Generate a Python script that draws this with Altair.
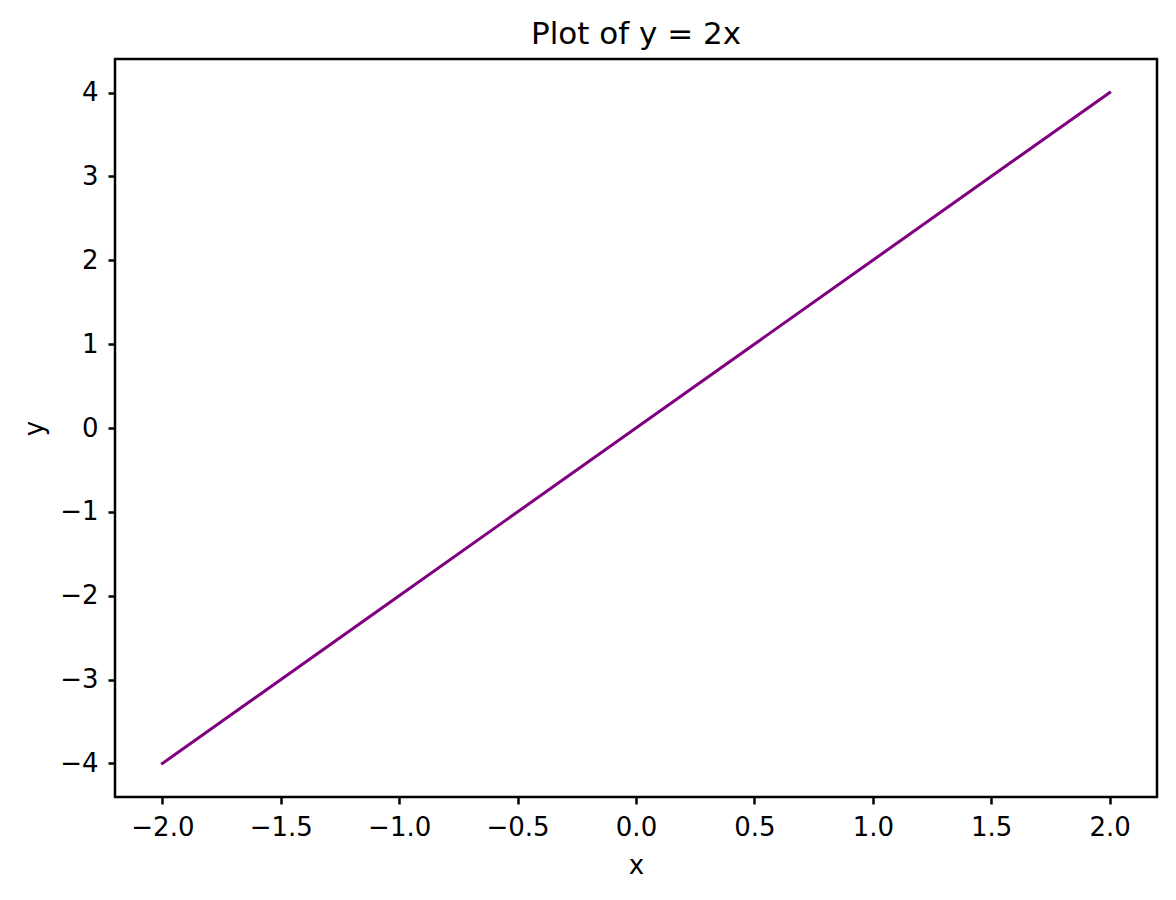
import altair as alt
import pandas as pd

x_values = [-2.0, -1.0, 0.0, 1.0, 2.0]
y_values = [-4.0, -2.0, 0.0, 2.0, 4.0]
x_ticks = [-2.0, -1.5, -1.0, -0.5, 0.0, 0.5, 1.0, 1.5, 2.0]
y_ticks = [-4, -3, -2, -1, 0, 1, 2, 3, 4]

df = pd.DataFrame({"x": x_values, "y": y_values})

FONT = "DejaVu Sans"

axis_common = dict(
    labelFont=FONT, labelFontSize=26, labelColor="black",
    titleFont=FONT, titleFontSize=26, titleColor="black", titleFontWeight="normal",
    tickColor="black", tickWidth=2.5, tickSize=7, labelPadding=10,
    domain=False, grid=False,
)

chart = alt.Chart(df).mark_line(color="#800080", strokeWidth=3, strokeCap="square").encode(
    x=alt.X("x:Q", scale=alt.Scale(domain=[-2.2, 2.2], nice=False, zero=False),
            axis=alt.Axis(values=x_ticks, format=".1f", title="x", titlePadding=12, **axis_common)),
    y=alt.Y("y:Q", scale=alt.Scale(domain=[-4.4, 4.4], nice=False, zero=False),
            axis=alt.Axis(values=y_ticks, format="d", title="y", titlePadding=12, **axis_common)),
).properties(
    width=1042, height=738,
    background="white",
    title=alt.TitleParams("Plot of y = 2x", font=FONT, fontSize=31, fontWeight="normal",
                          color="black", baseline="bottom", offset=10, dy=33, anchor="middle"),
    autosize=alt.AutoSizeParams(type="none"),
    padding={"left": 107, "top": 51, "right": 11, "bottom": 95},
).configure_view(stroke="black", strokeWidth=2.5)

chart.save("out.html", embed_options={"renderer": "svg", "actions": False})
